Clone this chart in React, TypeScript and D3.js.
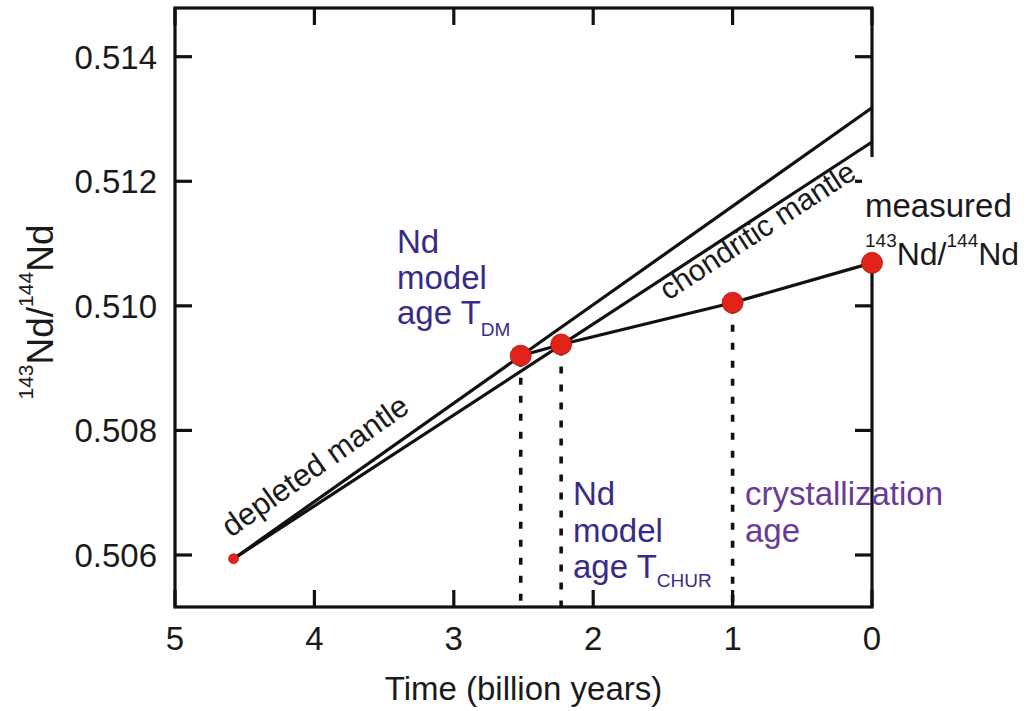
import React from "react";
import * as d3 from "d3";

// Time axis (billion years before present) and isotope-ratio ticks
const timeTicks = [5, 4, 3, 2, 1, 0];
const ratioTicks = [0.506, 0.508, 0.51, 0.512, 0.514];

// Mantle reservoirs: start (Earth formation) and present day
const mantleAges = [4.58, 0];
const depletedMantle = [0.50594, 0.51318];
const chondriticMantle = [0.50594, 0.51263];

// Crustal sample evolution: T_DM, T_CHUR, crystallization, measured
const crustAges = [2.52, 2.23, 1.0, 0];
const crustRatios = [0.5092, 0.50938, 0.51005, 0.51069];

// Which crust points get a drop line to the time axis
const dropIndices = [0, 1, 2];

const W = 1032;
const H = 711;
const FRAME = { left: 175, right: 872, top: 8, bottom: 607 };
const FONT = "'Liberation Sans', Arial, Helvetica, sans-serif";
const RED = "#e2231a";
const INDIGO = "#3a2a88";
const PURPLE = "#6a3a99";

export default function App() {
  const x = d3.scaleLinear().domain([5, 0]).range([FRAME.left, FRAME.right]);
  const y = d3.scaleLinear().domain([0.506, 0.514]).range([555, 56.7]);

  const line = d3
    .line<[number, number]>()
    .x((d) => x(d[0]))
    .y((d) => y(d[1]));

  const dmPts: [number, number][] = mantleAges.map((t, i) => [t, depletedMantle[i]]);
  const churPts: [number, number][] = mantleAges.map((t, i) => [t, chondriticMantle[i]]);
  const crustPts: [number, number][] = crustAges.map((t, i) => [t, crustRatios[i]]);

  const angle = (pts: [number, number][]) =>
    (Math.atan2(y(pts[1][1]) - y(pts[0][1]), x(pts[1][0]) - x(pts[0][0])) * 180) / Math.PI;
  const dmAngle = angle(dmPts);
  const churAngle = angle(churPts);

  const tickLen = 17;
  const measured = crustPts[crustPts.length - 1];

  return (
    <svg
      width={W}
      height={H}
      viewBox={`0 0 ${W} ${H}`}
      style={{ position: "absolute", left: 0, top: 0, background: "#fff" }}
      fontFamily={FONT}
    >
      {/* plot frame */}
      <rect
        x={FRAME.left}
        y={FRAME.top}
        width={FRAME.right - FRAME.left}
        height={FRAME.bottom - FRAME.top}
        fill="none"
        stroke="#111"
        strokeWidth={3.2}
      />

      {/* time ticks (top and bottom, inward) */}
      {timeTicks.map((t) => (
        <g key={`xt${t}`}>
          <line x1={x(t)} x2={x(t)} y1={FRAME.bottom} y2={FRAME.bottom - tickLen} stroke="#111" strokeWidth={3.2} />
          <line x1={x(t)} x2={x(t)} y1={FRAME.top} y2={FRAME.top + tickLen} stroke="#111" strokeWidth={3.2} />
          <text x={x(t)} y={650} fontSize={33} textAnchor="middle" fill="#1a1a1a">
            {t}
          </text>
        </g>
      ))}

      {/* ratio ticks (left and right, inward) */}
      {ratioTicks.map((v) => (
        <g key={`yt${v}`}>
          <line x1={FRAME.left} x2={FRAME.left + tickLen} y1={y(v)} y2={y(v)} stroke="#111" strokeWidth={3.2} />
          <line x1={FRAME.right} x2={FRAME.right - tickLen} y1={y(v)} y2={y(v)} stroke="#111" strokeWidth={3.2} />
          <text x={157} y={y(v)} dy="0.36em" fontSize={33} textAnchor="end" fill="#1a1a1a">
            {d3.format(".3f")(v)}
          </text>
        </g>
      ))}

      {/* axis titles */}
      <text x={(FRAME.left + FRAME.right) / 2} y={700} fontSize={33} textAnchor="middle" fill="#1a1a1a">
        Time (billion years)
      </text>
      <text transform="translate(53,312) rotate(-90)" fontSize={37} textAnchor="middle" fill="#1a1a1a">
        <tspan fontSize={21} dy={-20}>143</tspan>
        <tspan dy={20}>Nd/</tspan>
        <tspan fontSize={21} dy={-20}>144</tspan>
        <tspan dy={20}>Nd</tspan>
      </text>

      {/* mantle evolution lines */}
      <path d={line(dmPts) || ""} fill="none" stroke="#111" strokeWidth={3.2} />
      <path d={line(churPts) || ""} fill="none" stroke="#111" strokeWidth={3.2} />

      {/* crust evolution line */}
      <path d={line(crustPts) || ""} fill="none" stroke="#111" strokeWidth={3.2} />

      {/* drop lines to the time axis */}
      {dropIndices.map((i) => (
        <line
          key={`drop${i}`}
          x1={x(crustAges[i])}
          x2={x(crustAges[i])}
          y1={y(crustRatios[i])}
          y2={FRAME.bottom}
          stroke="#111"
          strokeWidth={3.6}
          strokeDasharray="7 11"
          strokeDashoffset={-4}
        />
      ))}

      {/* reservoir labels along the lines */}
      <text transform={`translate(231,538) rotate(${dmAngle})`} fontSize={31} fill="#1a1a1a">
        depleted mantle
      </text>
      <text transform={`translate(668,301) rotate(${churAngle})`} fontSize={30} fill="#1a1a1a">
        chondritic mantle
      </text>

      {/* model-age labels */}
      <text x={397} y={253} fontSize={33} fill={INDIGO}>
        <tspan x={397}>Nd</tspan>
        <tspan x={397} dy={36}>model</tspan>
        <tspan x={397} dy={35}>age T</tspan>
        <tspan fontSize={19} dy={12}>DM</tspan>
      </text>
      <text x={573} y={505} fontSize={33} fill={INDIGO}>
        <tspan x={573}>Nd</tspan>
        <tspan x={573} dy={37}>model</tspan>
        <tspan x={573} dy={36}>age T</tspan>
        <tspan fontSize={19} dy={9}>CHUR</tspan>
      </text>
      <text x={745} y={505} fontSize={33} fill={PURPLE}>
        <tspan x={745}>crystallization</tspan>
        <tspan x={745} dy={37}>age</tspan>
      </text>

      {/* measured ratio label with backing box */}
      <rect x={FRAME.right - 10} y={157} width={W - FRAME.right + 10} height={y(measured[1]) - 157} fill="#fff" />
      <text x={865} y={217} fontSize={33} fill="#1a1a1a">
        measured
      </text>
      <text x={865} y={265} fontSize={32} fill="#1a1a1a">
        <tspan fontSize={19} dy={-18}>143</tspan>
        <tspan dy={18}>Nd/</tspan>
        <tspan fontSize={19} dy={-18}>144</tspan>
        <tspan dy={18}>Nd</tspan>
      </text>

      {/* markers */}
      <circle cx={x(mantleAges[0])} cy={y(depletedMantle[0])} r={5} fill={RED} stroke="#a01010" strokeWidth={0.6} />
      {crustPts.map((p, i) => (
        <circle key={`pt${i}`} cx={x(p[0])} cy={y(p[1])} r={10.5} fill={RED} stroke="#a81410" strokeWidth={0.8} />
      ))}
    </svg>
  );
}
